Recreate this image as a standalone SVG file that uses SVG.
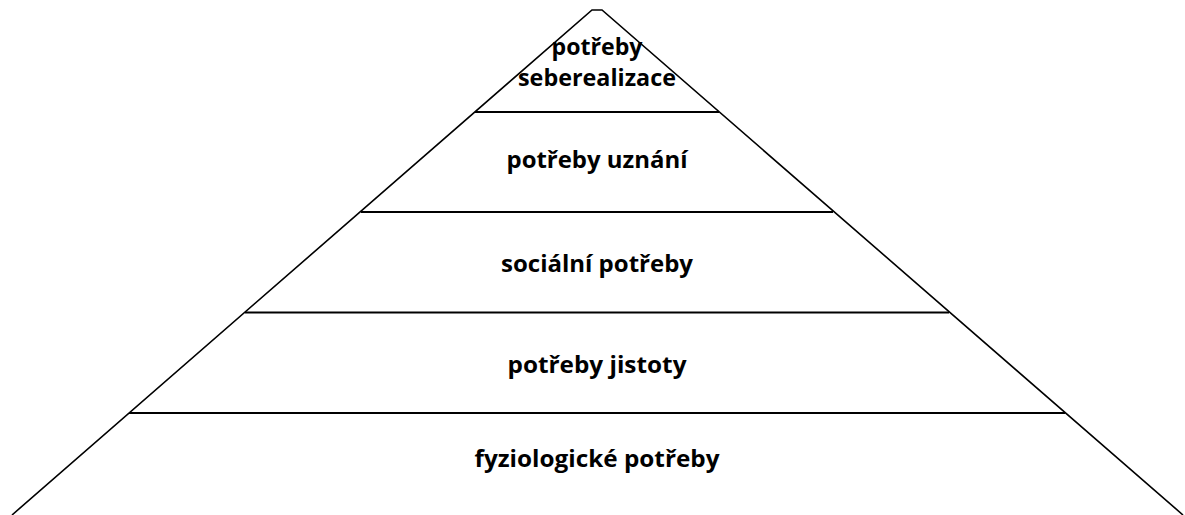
<svg xmlns="http://www.w3.org/2000/svg" width="1185" height="515" viewBox="0 0 1185 515">
<style>
.edge{fill:none;stroke:#000;stroke-width:1.6}
.tier{fill:none;stroke:#000;stroke-width:2}
.lbl{font-family:"Open Sans","Liberation Sans",sans-serif;font-weight:bold;font-size:23px;fill:#000;text-anchor:middle}
</style>
<rect width="1185" height="515" fill="#fff"/>
<g id="connectors">
<polyline class="edge" points="12,515 592,10 602,10 1183,515"/>
<line class="tier" x1="475" y1="112" x2="719" y2="112"/>
<line class="tier" x1="361" y1="212" x2="833" y2="212"/>
<line class="tier" x1="245" y1="312.5" x2="949" y2="312.5"/>
<line class="tier" x1="129" y1="413" x2="1065" y2="413"/>
</g>
<g id="node-seberealizace"><text class="lbl" x="597" y="55" textLength="91" lengthAdjust="spacingAndGlyphs">potřeby</text><text class="lbl" x="597" y="86" textLength="158" lengthAdjust="spacingAndGlyphs">seberealizace</text></g>
<g id="node-uznani"><text class="lbl" x="597" y="168" textLength="181" lengthAdjust="spacingAndGlyphs">potřeby uznání</text></g>
<g id="node-socialni"><text class="lbl" x="597" y="272" textLength="192" lengthAdjust="spacingAndGlyphs">sociální potřeby</text></g>
<g id="node-jistoty"><text class="lbl" x="597" y="373" textLength="179" lengthAdjust="spacingAndGlyphs">potřeby jistoty</text></g>
<g id="node-fyziologicke"><text class="lbl" x="597" y="467" textLength="245" lengthAdjust="spacingAndGlyphs">fyziologické potřeby</text></g>
</svg>
